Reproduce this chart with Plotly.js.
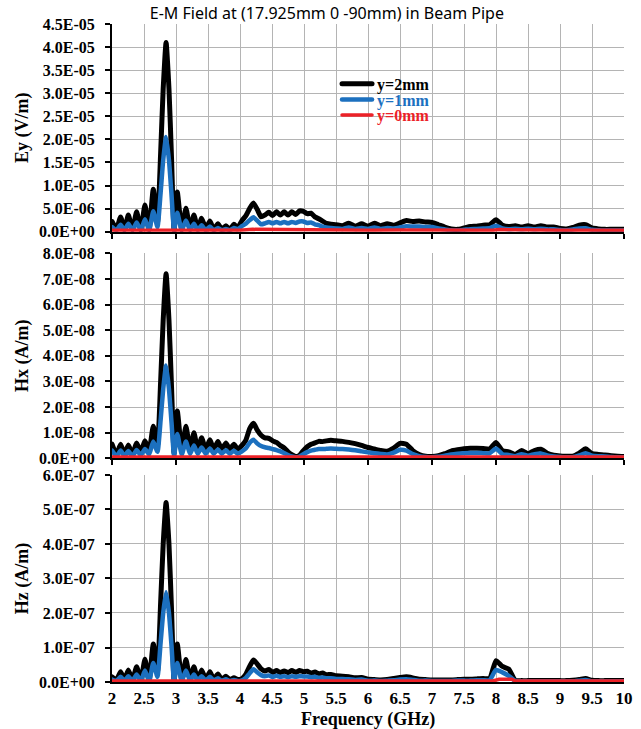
<!DOCTYPE html>
<html><head><meta charset="utf-8">
<script src="https://cdn.plot.ly/plotly-3.0.1.min.js"></script>
<style>html,body{margin:0;padding:0;background:#fff}#chart{width:641px;height:729px}
path.js-line{stroke-linejoin:round;stroke-linecap:round}</style>
</head><body><div id="chart"></div>
<script>
// Frequency (GHz) sample points
const freq = [
  2.00,2.07,2.135,2.195,2.255,2.32,2.385,2.45,2.515,2.58,2.645,2.71,2.76,2.80,2.845,2.89,2.93,2.97,3.02,3.09,
  3.155,3.22,3.28,3.34,3.40,3.465,3.53,3.59,3.655,3.715,3.78,3.84,3.905,3.965,
  4.03,4.09,4.15,4.21,4.27,4.33,4.39,4.45,4.51,4.57,4.63,4.69,4.75,4.81,4.87,4.93,4.99,5.05,5.11,5.17,
  5.23,5.29,5.35,5.42,5.5,
  5.6,5.7,5.8,5.9,6.0,6.1,6.2,6.3,6.4,6.5,6.6,6.7,6.8,6.9,7.0,7.1,7.2,7.3,7.4,7.5,
  7.6,7.7,7.8,7.9,8.0,8.1,8.2,8.3,8.4,8.5,8.6,8.7,8.8,8.9,9.0,9.1,9.2,9.3,9.4,9.5,
  9.6,9.7,9.8,9.9,10.0
];
const freqRed = [2.0,2.5,2.85,3.0,3.5,4.0,4.2,4.5,5.0,5.5,6.0,6.5,7.0,7.5,7.95,8.05,8.25,8.3,9.0,9.5,10.0];

// Ey (V/m)
const ey2 = [
  2.2e-6,0.6e-6,3.2e-6,0.5e-6,3.6e-6,0.5e-6,4.3e-6,0.4e-6,5.8e-6,0.5e-6,9.2e-6,2.0e-6,17e-6,31e-6,41e-6,31e-6,16e-6,0.4e-6,8.6e-6,0.4e-6,
  5.1e-6,0.6e-6,3.6e-6,0.6e-6,2.9e-6,0.7e-6,2.3e-6,0.5e-6,1.7e-6,0.5e-6,1.3e-6,0.5e-6,1.6e-6,0.9e-6,
  2.4e-6,3.4e-6,5.0e-6,6.2e-6,4.8e-6,3.2e-6,3.6e-6,4.2e-6,3.5e-6,4.3e-6,3.6e-6,4.3e-6,3.6e-6,4.3e-6,3.7e-6,4.5e-6,4.4e-6,3.9e-6,4.0e-6,3.2e-6,
  2.8e-6,2.3e-6,1.8e-6,1.6e-6,1.5e-6,
  1.3e-6,1.8e-6,1.2e-6,1.7e-6,1.2e-6,1.8e-6,1.3e-6,1.7e-6,1.4e-6,1.9e-6,2.4e-6,2.2e-6,2.3e-6,2.1e-6,2.0e-6,1.5e-6,1.0e-6,0.6e-6,0.5e-6,0.8e-6,
  1.1e-6,1.2e-6,1.4e-6,1.5e-6,2.6e-6,1.4e-6,1.1e-6,1.3e-6,1.0e-6,1.3e-6,1.0e-6,1.3e-6,1.0e-6,1.0e-6,0.7e-6,0.6e-6,0.9e-6,1.4e-6,1.5e-6,0.8e-6,
  0.6e-6,0.5e-6,0.5e-6,0.5e-6,0.5e-6
];
const ey1 = [
  1.0e-6,0.3e-6,1.5e-6,0.3e-6,1.7e-6,0.3e-6,2.0e-6,0.3e-6,2.7e-6,0.3e-6,4.4e-6,1.0e-6,8.5e-6,15.5e-6,20.5e-6,15.5e-6,8.0e-6,0.3e-6,4.1e-6,0.3e-6,
  2.4e-6,0.3e-6,1.7e-6,0.3e-6,1.4e-6,0.3e-6,1.1e-6,0.3e-6,0.8e-6,0.3e-6,0.6e-6,0.3e-6,0.8e-6,0.5e-6,
  1.2e-6,1.7e-6,2.5e-6,3.1e-6,2.4e-6,1.6e-6,1.8e-6,2.1e-6,1.8e-6,2.1e-6,1.8e-6,2.1e-6,1.8e-6,2.1e-6,1.9e-6,2.2e-6,2.2e-6,1.9e-6,2.0e-6,1.6e-6,
  1.4e-6,1.1e-6,0.9e-6,0.8e-6,0.7e-6,
  0.6e-6,0.9e-6,0.6e-6,0.8e-6,0.6e-6,0.9e-6,0.6e-6,0.8e-6,0.7e-6,0.9e-6,1.2e-6,1.1e-6,1.1e-6,1.0e-6,1.0e-6,0.7e-6,0.5e-6,0.3e-6,0.25e-6,0.4e-6,
  0.55e-6,0.6e-6,0.7e-6,0.75e-6,1.3e-6,0.7e-6,0.55e-6,0.65e-6,0.5e-6,0.65e-6,0.5e-6,0.65e-6,0.5e-6,0.5e-6,0.35e-6,0.3e-6,0.45e-6,0.7e-6,0.75e-6,0.4e-6,
  0.3e-6,0.25e-6,0.25e-6,0.25e-6,0.25e-6
];
const ey0 = [0.3e-6,0.3e-6,0.35e-6,0.3e-6,0.3e-6,0.3e-6,0.5e-6,0.45e-6,0.45e-6,0.35e-6,0.3e-6,0.35e-6,0.3e-6,0.3e-6,0.3e-6,0.45e-6,0.4e-6,0.3e-6,0.3e-6,0.3e-6,0.3e-6];

// Hx (A/m)
const hx2 = [
  0.55e-8,0.15e-8,0.55e-8,0.15e-8,0.52e-8,0.15e-8,0.6e-8,0.25e-8,0.68e-8,0.3e-8,1.25e-8,0.5e-8,3.0e-8,5.4e-8,7.2e-8,5.4e-8,2.8e-8,0.2e-8,1.85e-8,0.3e-8,
  1.25e-8,0.33e-8,1.0e-8,0.35e-8,0.8e-8,0.35e-8,0.72e-8,0.35e-8,0.65e-8,0.35e-8,0.6e-8,0.35e-8,0.55e-8,0.35e-8,
  0.5e-8,0.7e-8,1.15e-8,1.37e-8,1.1e-8,0.9e-8,0.8e-8,0.78e-8,0.68e-8,0.62e-8,0.5e-8,0.4e-8,0.25e-8,0.14e-8,0.07e-8,0.12e-8,0.3e-8,0.45e-8,0.55e-8,0.6e-8,
  0.66e-8,0.65e-8,0.68e-8,0.7e-8,0.68e-8,
  0.66e-8,0.62e-8,0.57e-8,0.5e-8,0.42e-8,0.36e-8,0.3e-8,0.28e-8,0.4e-8,0.58e-8,0.55e-8,0.3e-8,0.15e-8,0.08e-8,0.07e-8,0.1e-8,0.18e-8,0.28e-8,0.33e-8,0.37e-8,
  0.39e-8,0.39e-8,0.38e-8,0.36e-8,0.62e-8,0.3e-8,0.25e-8,0.15e-8,0.3e-8,0.18e-8,0.3e-8,0.35e-8,0.2e-8,0.12e-8,0.09e-8,0.08e-8,0.08e-8,0.2e-8,0.37e-8,0.18e-8,
  0.15e-8,0.13e-8,0.1e-8,0.08e-8,0.07e-8
];
const hx1 = [
  0.3e-8,0.08e-8,0.3e-8,0.08e-8,0.28e-8,0.08e-8,0.32e-8,0.12e-8,0.36e-8,0.15e-8,0.65e-8,0.25e-8,1.5e-8,2.7e-8,3.62e-8,2.7e-8,1.4e-8,0.1e-8,0.95e-8,0.15e-8,
  0.65e-8,0.17e-8,0.5e-8,0.18e-8,0.42e-8,0.18e-8,0.38e-8,0.18e-8,0.34e-8,0.18e-8,0.31e-8,0.18e-8,0.29e-8,0.18e-8,
  0.27e-8,0.38e-8,0.6e-8,0.72e-8,0.58e-8,0.48e-8,0.43e-8,0.4e-8,0.36e-8,0.32e-8,0.27e-8,0.2e-8,0.13e-8,0.07e-8,0.04e-8,0.07e-8,0.16e-8,0.24e-8,0.3e-8,0.33e-8,
  0.36e-8,0.36e-8,0.37e-8,0.38e-8,0.37e-8,
  0.36e-8,0.34e-8,0.31e-8,0.27e-8,0.23e-8,0.2e-8,0.17e-8,0.15e-8,0.22e-8,0.33e-8,0.3e-8,0.16e-8,0.08e-8,0.05e-8,0.04e-8,0.06e-8,0.1e-8,0.15e-8,0.18e-8,0.2e-8,
  0.21e-8,0.21e-8,0.2e-8,0.19e-8,0.38e-8,0.16e-8,0.13e-8,0.08e-8,0.16e-8,0.1e-8,0.16e-8,0.19e-8,0.11e-8,0.07e-8,0.05e-8,0.04e-8,0.04e-8,0.11e-8,0.2e-8,0.1e-8,
  0.08e-8,0.07e-8,0.05e-8,0.04e-8,0.04e-8
];
const hx0 = [0.05e-8,0.05e-8,0.06e-8,0.05e-8,0.05e-8,0.05e-8,0.06e-8,0.06e-8,0.07e-8,0.08e-8,0.07e-8,0.06e-8,0.05e-8,0.05e-8,0.05e-8,0.08e-8,0.06e-8,0.05e-8,0.05e-8,0.05e-8,0.05e-8];

// Hz (A/m)
const hz2 = [
  0.15e-7,0.06e-7,0.3e-7,0.07e-7,0.35e-7,0.06e-7,0.44e-7,0.05e-7,0.66e-7,0.04e-7,1.1e-7,0.3e-7,2.3e-7,4.0e-7,5.2e-7,4.0e-7,2.1e-7,0.04e-7,1.1e-7,0.06e-7,
  0.65e-7,0.08e-7,0.44e-7,0.08e-7,0.35e-7,0.08e-7,0.3e-7,0.08e-7,0.23e-7,0.07e-7,0.17e-7,0.07e-7,0.12e-7,0.07e-7,
  0.1e-7,0.22e-7,0.45e-7,0.64e-7,0.52e-7,0.38e-7,0.32e-7,0.36e-7,0.28e-7,0.33e-7,0.27e-7,0.32e-7,0.27e-7,0.33e-7,0.28e-7,0.33e-7,0.3e-7,0.31e-7,0.26e-7,0.29e-7,
  0.24e-7,0.26e-7,0.21e-7,0.22e-7,0.18e-7,
  0.17e-7,0.15e-7,0.12e-7,0.13e-7,0.08e-7,0.07e-7,0.06e-7,0.07e-7,0.1e-7,0.13e-7,0.15e-7,0.12e-7,0.08e-7,0.07e-7,0.06e-7,0.06e-7,0.06e-7,0.06e-7,0.07e-7,0.08e-7,
  0.08e-7,0.09e-7,0.1e-7,0.1e-7,0.62e-7,0.45e-7,0.37e-7,0.05e-7,0.04e-7,0.04e-7,0.04e-7,0.04e-7,0.04e-7,0.04e-7,0.04e-7,0.04e-7,0.05e-7,0.07e-7,0.1e-7,0.05e-7,
  0.04e-7,0.04e-7,0.04e-7,0.04e-7,0.04e-7
];
const hz1 = [
  0.07e-7,0.03e-7,0.15e-7,0.03e-7,0.17e-7,0.03e-7,0.22e-7,0.03e-7,0.33e-7,0.02e-7,0.55e-7,0.15e-7,1.15e-7,2.0e-7,2.6e-7,2.0e-7,1.05e-7,0.02e-7,0.55e-7,0.03e-7,
  0.33e-7,0.04e-7,0.22e-7,0.04e-7,0.17e-7,0.04e-7,0.15e-7,0.04e-7,0.11e-7,0.03e-7,0.08e-7,0.03e-7,0.06e-7,0.03e-7,
  0.05e-7,0.12e-7,0.25e-7,0.37e-7,0.28e-7,0.2e-7,0.17e-7,0.19e-7,0.15e-7,0.18e-7,0.15e-7,0.17e-7,0.14e-7,0.17e-7,0.15e-7,0.17e-7,0.16e-7,0.16e-7,0.14e-7,0.15e-7,
  0.12e-7,0.13e-7,0.11e-7,0.11e-7,0.09e-7,
  0.09e-7,0.08e-7,0.06e-7,0.07e-7,0.04e-7,0.04e-7,0.03e-7,0.04e-7,0.05e-7,0.07e-7,0.08e-7,0.06e-7,0.04e-7,0.04e-7,0.03e-7,0.03e-7,0.03e-7,0.03e-7,0.04e-7,0.04e-7,
  0.04e-7,0.05e-7,0.05e-7,0.05e-7,0.35e-7,0.28e-7,0.18e-7,0.03e-7,0.02e-7,0.02e-7,0.02e-7,0.02e-7,0.02e-7,0.02e-7,0.02e-7,0.02e-7,0.02e-7,0.04e-7,0.06e-7,0.02e-7,
  0.02e-7,0.02e-7,0.02e-7,0.02e-7,0.02e-7
];
const hz0 = [0.03e-7,0.03e-7,0.04e-7,0.03e-7,0.03e-7,0.03e-7,0.04e-7,0.04e-7,0.04e-7,0.03e-7,0.03e-7,0.03e-7,0.03e-7,0.03e-7,0.03e-7,0.08e-7,0.08e-7,0.03e-7,0.03e-7,0.03e-7,0.03e-7];

// Tick labels
const eyTickVals = [0,5e-6,1e-5,1.5e-5,2e-5,2.5e-5,3e-5,3.5e-5,4e-5,4.5e-5];
const eyTickText = ['0.0E+00','5.0E-06','1.0E-05','1.5E-05','2.0E-05','2.5E-05','3.0E-05','3.5E-05','4.0E-05','4.5E-05'];
const hxTickVals = [0,1e-8,2e-8,3e-8,4e-8,5e-8,6e-8,7e-8,8e-8];
const hxTickText = ['0.0E+00','1.0E-08','2.0E-08','3.0E-08','4.0E-08','5.0E-08','6.0E-08','7.0E-08','8.0E-08'];
const hzTickVals = [0,1e-7,2e-7,3e-7,4e-7,5e-7,6e-7];
const hzTickText = ['0.0E+00','1.0E-07','2.0E-07','3.0E-07','4.0E-07','5.0E-07','6.0E-07'];
const seriesNames = ['y=2mm','y=1mm','y=0mm'];
const seriesColors = ['#000000','#1c70bf','#ec2127'];
const seriesWidths = [5,4.5,3.5];
const legendIds = ['legend','legend2','legend3'];

const traces = [];
const panels = [
  {x:'x',  y:'y',  data:[ey2,ey1,ey0], legend:true},
  {x:'x2', y:'y2', data:[hx2,hx1,hx0], legend:false},
  {x:'x3', y:'y3', data:[hz2,hz1,hz0], legend:false}
];
panels.forEach(p => {
  p.data.forEach((vals, i) => {
    traces.push({
      type:'scatter', mode:'lines',
      x: i === 2 ? freqRed : freq, y: vals,
      xaxis:p.x, yaxis:p.y,
      name:'<span style="color:' + seriesColors[i] + '">' + seriesNames[i] + '</span>',
      showlegend:p.legend, legend:legendIds[i],
      line:{color:seriesColors[i], width:seriesWidths[i], shape: i === 2 ? 'linear' : 'spline', smoothing:0.5},
      hoverinfo:'skip'
    });
  });
});

const serif = 'Liberation Serif, Times New Roman, serif';
const grid = '#b4b4b4';
function xAx(anchor, labels){
  const a = {
    anchor:anchor, domain:[0,1], range:[2,10], showline:true, linecolor:'#000', linewidth:2,
    showgrid:true, gridcolor:grid, gridwidth:1, zeroline:false, fixedrange:true,
    tickfont:{family:serif, size:17, color:'#000', weight:'bold'}
  };
  if (labels){
    a.tick0 = 2; a.dtick = 0.5; a.ticks = ''; a.showticklabels = true; a.ticklabelstandoff = 0;
  } else {
    a.tick0 = 2; a.dtick = 1; a.ticks = 'outside'; a.ticklen = 5; a.tickwidth = 2; a.tickcolor = '#000';
    a.showticklabels = false;
    a.minor = {dtick:0.5, tick0:2, showgrid:true, gridcolor:grid, gridwidth:1, ticks:''};
  }
  return a;
}
function yAx(anchor, dom, rng, tv, tt, title){
  return {
    anchor:anchor, domain:dom, range:rng, tickmode:'array', tickvals:tv, ticktext:tt,
    showline:true, linecolor:'#000', linewidth:2, ticks:'outside', ticklen:5, tickwidth:2, tickcolor:'#000',
    ticklabelstandoff:7,
    showgrid:true, gridcolor:grid, gridwidth:1, zeroline:false, fixedrange:true,
    tickfont:{family:serif, size:16, color:'#000', weight:'bold'},
    title:{text:title, font:{family:serif, size:18, color:'#000', weight:'bold'}, standoff:6}
  };
}
function leg(yTop){
  return {x:0.4395, xanchor:'left', y:yTop, yanchor:'top', bgcolor:'rgba(255,255,255,0)',
    font:{family:serif, size:16, color:'#000', weight:'bold'}, itemwidth:30};
}

const layout = {
  width:641, height:729,
  margin:{l:112, r:17, t:24, b:47},
  paper_bgcolor:'#ffffff', plot_bgcolor:'#ffffff',
  title:{text:'E-M Field at (17.925mm 0 -90mm) in Beam Pipe',
    font:{family:'Noto Sans, Open Sans, sans-serif', size:16, color:'#000'},
    x:0.51, xref:'container', xanchor:'center', y:0.981, yref:'container', yanchor:'middle'},
  showlegend:true,
  legend: leg(0.9347),
  legend2: leg(0.9111),
  legend3: leg(0.8875),
  shapes:[{type:'rect', xref:'paper', yref:'paper', x0:0.437, x1:0.62, y0:0.855, y1:0.93,
    fillcolor:'#ffffff', line:{width:0}, layer:'between'}],
  xaxis: xAx('y', false),
  xaxis2: xAx('y2', false),
  xaxis3: xAx('y3', true),
  yaxis: yAx('x',  [0.6844,1], [0,4.5e-5], eyTickVals, eyTickText, 'Ey (V/m)'),
  yaxis2: yAx('x2', [0.34,0.6515], [0,8e-8], hxTickVals, hxTickText, 'Hx (A/m)'),
  yaxis3: yAx('x3', [0,0.3146], [0,6e-7], hzTickVals, hzTickText, 'Hz (A/m)'),
  annotations:[{
    text:'Frequency (GHz)', xref:'paper', x:0.5, xanchor:'center',
    yref:'paper', y:-0.0565, yanchor:'middle', showarrow:false,
    font:{family:serif, size:18, color:'#000', weight:'bold'}
  }]
};

Plotly.newPlot('chart', traces, layout, {displayModeBar:false, staticPlot:true});
</script>
</body></html>
